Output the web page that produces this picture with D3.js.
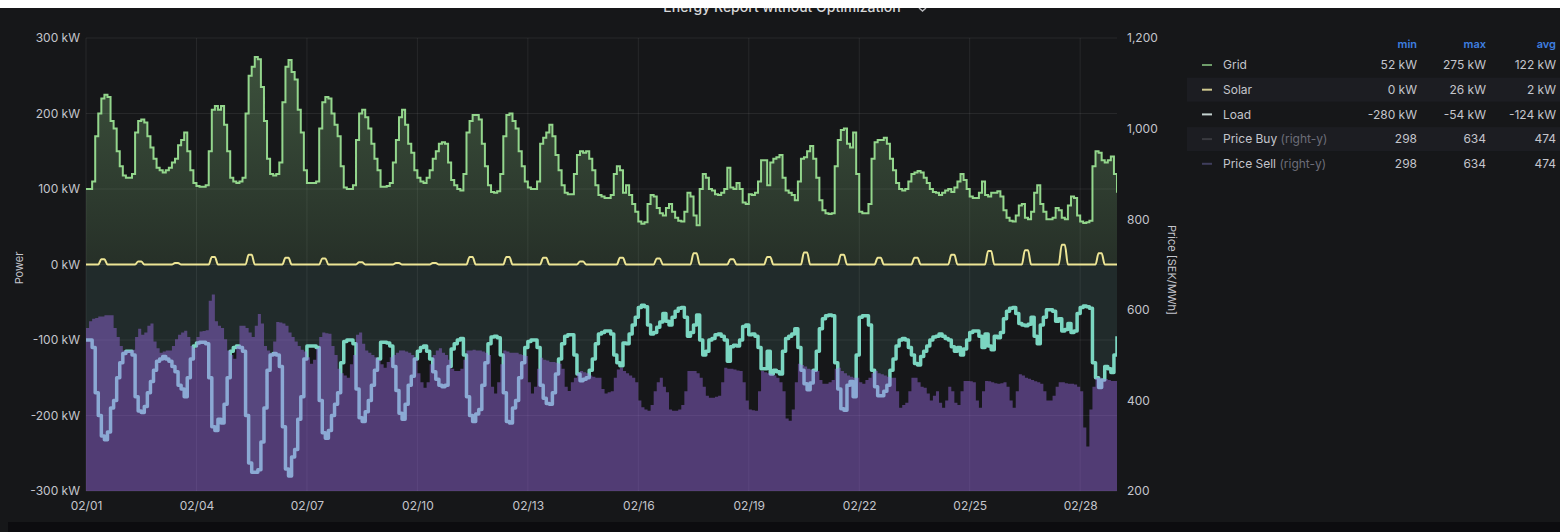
<!DOCTYPE html>
<html><head><meta charset="utf-8">
<script src="https://cdn.jsdelivr.net/npm/d3@7"></script>
<style>
html,body{margin:0;padding:0;background:#161719;overflow:hidden;}
svg{display:block;font-family:Inter,"Noto Sans",sans-serif;}
</style></head><body>
<svg id="c" width="1560" height="532"></svg>
<script>
// ---------- data (2-hour samples from 2024-02-01 00:00, last value closes 02/29 00:00) ----------
const startDate = new Date(2024, 1, 1);
const endDate = new Date(2024, 1, 29);
const stepHours = 2;

const gridKw = [
100,100,110,170,200,220,225,222,190,180,150,130,
118,115,115,120,175,190,192,188,170,155,140,128,
125,122,125,128,135,140,158,165,175,150,125,108,
104,103,103,105,150,205,210,205,210,185,150,115,
110,108,110,115,200,250,262,275,272,235,190,140,
120,118,120,135,215,262,271,255,245,205,175,125,
108,108,108,110,180,215,222,220,200,185,170,130,
102,100,100,105,165,200,205,195,180,160,140,125,
103,103,104,108,135,165,195,205,185,160,148,125,
115,110,108,115,125,140,150,160,162,160,135,112,
105,100,98,120,175,190,198,198,192,160,130,105,
96,95,97,120,170,198,200,190,180,150,130,110,
102,100,100,110,160,168,175,185,170,145,125,105,
95,93,93,120,145,150,148,150,140,125,105,92,
90,88,88,92,120,130,125,95,105,92,80,70,
57,54,56,80,92,90,75,68,65,75,80,70,
62,58,57,70,95,90,65,52,100,120,115,100,
98,93,92,95,100,128,102,100,108,100,82,80,
93,92,95,110,138,138,105,135,140,142,145,115,
98,95,92,85,110,140,142,150,157,140,115,85,
72,68,67,68,130,165,178,180,160,155,175,120,
70,68,68,80,140,162,165,165,168,160,140,125,
108,100,98,100,110,120,122,124,122,115,108,100,
96,95,92,95,98,100,96,102,110,120,112,100,
90,88,88,95,110,92,90,95,95,97,90,72,
62,58,57,65,78,80,62,60,70,95,105,80,
70,60,60,62,75,72,62,60,78,90,88,65,
57,55,56,58,130,150,148,138,135,138,143,120,
95];

const solarKw = [
0,0,0,0,0,7,7,0,0,0,0,0,
0,0,0,0,0,4,4,0,0,0,0,0,
0,0,0,0,0,2,2,0,0,0,0,0,
0,0,0,0,0,10,10,0,0,0,0,0,
0,0,0,0,0,13,13,0,0,0,0,0,
0,0,0,0,0,9,9,0,0,0,0,0,
0,0,0,0,0,8,8,0,0,0,0,0,
0,0,0,0,0,3,3,0,0,0,0,0,
0,0,0,0,0,2,2,0,0,0,0,0,
0,0,0,0,0,2,2,0,0,0,0,0,
0,0,0,0,0,10,10,0,0,0,0,0,
0,0,0,0,0,10,10,0,0,0,0,0,
0,0,0,0,0,9,9,0,0,0,0,0,
0,0,0,0,0,4,4,0,0,0,0,0,
0,0,0,0,0,0,9,9,0,0,0,0,
0,0,0,0,0,0,8,8,0,0,0,0,
0,0,0,0,0,0,15,15,0,0,0,0,
0,0,0,0,0,0,7,7,0,0,0,0,
0,0,0,0,0,0,10,10,0,0,0,0,
0,0,0,0,0,0,16,16,0,0,0,0,
0,0,0,0,0,0,13,13,0,0,0,0,
0,0,0,0,0,0,9,9,0,0,0,0,
0,0,0,0,0,0,9,9,0,0,0,0,
0,0,0,0,0,0,13,13,0,0,0,0,
0,0,0,0,0,0,18,18,0,0,0,0,
0,0,0,0,0,0,19,19,0,0,0,0,
0,0,0,0,0,0,26,26,0,0,0,0,
0,0,0,0,0,0,15,15,0,0,0,0,
0];

const loadKw = [
-100,-100,-110,-170,-200,-227,-232,-222,-190,-180,-150,-130,
-118,-115,-115,-120,-175,-194,-196,-188,-170,-155,-140,-128,
-125,-122,-125,-128,-135,-142,-160,-165,-175,-150,-125,-108,
-104,-103,-103,-105,-150,-215,-220,-205,-210,-185,-150,-115,
-110,-108,-110,-115,-200,-263,-275,-275,-272,-235,-190,-140,
-120,-118,-120,-135,-215,-271,-280,-255,-245,-205,-175,-125,
-108,-108,-108,-110,-180,-223,-230,-220,-200,-185,-170,-130,
-102,-100,-100,-105,-165,-203,-208,-195,-180,-160,-140,-125,
-103,-103,-104,-108,-135,-167,-197,-205,-185,-160,-148,-125,
-115,-110,-108,-115,-125,-142,-152,-160,-162,-160,-135,-112,
-105,-100,-98,-120,-175,-200,-208,-198,-192,-160,-130,-105,
-96,-95,-97,-120,-170,-208,-210,-190,-180,-150,-130,-110,
-102,-100,-100,-110,-160,-177,-184,-185,-170,-145,-125,-105,
-95,-93,-93,-120,-145,-154,-152,-150,-140,-125,-105,-92,
-90,-88,-88,-92,-120,-130,-134,-104,-105,-92,-80,-70,
-57,-54,-56,-80,-92,-90,-83,-76,-65,-75,-80,-70,
-62,-58,-57,-70,-95,-90,-80,-67,-100,-120,-115,-100,
-98,-93,-92,-95,-100,-128,-109,-107,-108,-100,-82,-80,
-93,-92,-95,-110,-138,-138,-115,-145,-140,-142,-145,-115,
-98,-95,-92,-85,-110,-140,-158,-166,-157,-140,-115,-85,
-72,-68,-67,-68,-130,-165,-191,-193,-160,-155,-175,-120,
-70,-68,-68,-80,-140,-162,-174,-174,-168,-160,-140,-125,
-108,-100,-98,-100,-110,-120,-131,-133,-122,-115,-108,-100,
-96,-95,-92,-95,-98,-100,-109,-115,-110,-120,-112,-100,
-90,-88,-88,-95,-110,-92,-108,-113,-95,-97,-90,-72,
-62,-58,-57,-65,-78,-80,-81,-79,-70,-95,-105,-80,
-70,-60,-60,-62,-75,-72,-88,-86,-78,-90,-88,-65,
-57,-55,-56,-58,-130,-150,-163,-153,-135,-138,-143,-120,
-95];

// Price Buy and Price Sell are identical in the source (same min/max/avg)
const priceSek = [
560,575,580,582,585,585,588,588,588,560,540,520,
510,510,510,512,540,558,545,550,565,570,530,515,
505,508,510,510,520,535,545,550,554,540,520,515,
540,552,553,555,620,634,575,565,560,535,510,500,
492,520,565,565,560,550,540,565,591,570,520,510,
505,530,573,572,570,565,550,540,530,520,512,508,
495,481,490,515,540,550,548,547,520,500,470,460,
455,450,480,500,545,550,525,510,505,500,495,490,
480,472,485,495,500,505,510,510,508,505,500,494,
460,440,428,440,480,500,510,515,505,500,490,470,
465,465,470,490,510,510,512,510,510,508,505,500,
430,415,440,480,510,508,505,505,505,502,500,498,
440,415,430,470,494,490,488,485,485,483,481,470,
430,421,440,450,460,465,462,460,455,452,450,450,
425,415,418,420,450,468,472,465,460,455,450,440,
400,385,380,377,390,420,440,450,430,418,380,377,
377,380,390,420,465,465,465,460,450,430,410,406,
406,408,410,440,472,470,470,468,466,465,440,400,
380,378,377,420,465,462,460,458,455,450,440,420,
360,355,380,440,481,478,475,470,468,466,465,445,
437,437,440,445,470,472,465,460,455,452,450,450,
440,437,445,450,460,465,460,458,455,452,450,450,
420,384,390,395,420,450,450,440,430,428,415,400,
410,420,395,384,400,430,420,395,390,420,443,443,
442,440,400,384,420,443,442,440,438,437,438,440,
430,400,384,420,458,455,450,448,445,442,440,437,
420,400,400,410,430,440,440,438,437,437,435,430,
420,340,298,380,430,450,450,448,447,445,443,443,
443];

const powerTicks = [300, 200, 100, 0, -100, -200, -300];
const priceTicks = [1200, 1000, 800, 600, 400, 200];
const dateTickEveryDays = 3;

const titleText = "Energy Report without Optimization";
const legendNames = ["Grid", "Solar", "Load", "Price Buy", "Price Sell"];
const legendSuffix = ["", "", "", "(right-y)", "(right-y)"];
const legendMin = ["52 kW", "0 kW", "-280 kW", "298", "298"];
const legendMax = ["275 kW", "26 kW", "-54 kW", "634", "634"];
const legendAvg = ["122 kW", "2 kW", "-124 kW", "474", "474"];
const legendHeaders = ["min", "max", "avg"];

// ---------- drawing ----------
const W = 1560, H = 532;
const P = {l: 86, r: 1117, t: 38, b: 491};
const C = {
  bg: "#161719", text: "#c4c5cc", dim: "#6c6d78", grid: "rgba(255,255,255,0.075)",
  gridLine: "#93d68c", solar: "#ede595", load: "#7bd6c1", price: "#a06cec",
  head: "#3f7fe0"
};
const legendSwatch = ["#6f9d6a", "#cfc88f", "#c5d3d0", "#3a3a40", "#3f3e5c"];

const svg = d3.select("#c");
svg.append("rect").attr("width", W).attr("height", H).attr("fill", C.bg);

const times = gridKw.map((_, i) => d3.timeHour.offset(startDate, i * stepHours));
const x = d3.scaleTime().domain([startDate, endDate]).range([P.l, P.r]);
const yL = d3.scaleLinear().domain([-300, 300]).range([P.b, P.t]);
const yR = d3.scaleLinear().domain([200, 1200]).range([P.b, P.t]);

const defs = svg.append("defs");
defs.append("clipPath").attr("id", "plot").append("rect")
  .attr("x", P.l).attr("y", P.t - 4).attr("width", P.r - P.l).attr("height", P.b - P.t + 4);
const g1 = defs.append("linearGradient").attr("id", "gridFill")
  .attr("gradientUnits", "userSpaceOnUse").attr("x1", 0).attr("x2", 0)
  .attr("y1", yL(300)).attr("y2", yL(0));
g1.append("stop").attr("offset", 0).attr("stop-color", C.gridLine).attr("stop-opacity", 0.32);
g1.append("stop").attr("offset", 1).attr("stop-color", C.gridLine).attr("stop-opacity", 0.13);

// gridlines
const xTicks = d3.timeDay.range(startDate, endDate, 1)
  .filter(d => (d.getDate() - 1) % dateTickEveryDays === 0);
const gl = svg.append("g");
gl.selectAll("line.h").data(powerTicks).join("line")
  .attr("x1", P.l).attr("x2", P.r).attr("y1", d => yL(d)).attr("y2", d => yL(d))
  .attr("stroke", C.grid).attr("stroke-width", 1);
gl.selectAll("line.v").data(xTicks).join("line")
  .attr("x1", d => x(d)).attr("x2", d => x(d)).attr("y1", P.t).attr("y2", P.b)
  .attr("stroke", C.grid).attr("stroke-width", 1);

const plot = svg.append("g").attr("clip-path", "url(#plot)");
const xi = (d, i) => x(times[i]);

// fills
plot.append("path").datum(gridKw)
  .attr("d", d3.area().x(xi).y0(yL(0)).y1(d => yL(d)).curve(d3.curveStepAfter))
  .attr("fill", "url(#gridFill)");
plot.append("path").datum(loadKw)
  .attr("d", d3.area().x(xi).y0(yL(0)).y1(d => yL(d)).curve(d3.curveStepAfter))
  .attr("fill", C.load).attr("fill-opacity", 0.11);

// lines
plot.append("path").datum(gridKw)
  .attr("d", d3.line().x(xi).y(d => yL(d)).curve(d3.curveStepAfter))
  .attr("fill", "none").attr("stroke", C.gridLine).attr("stroke-width", 2);
plot.append("path").datum(solarKw)
  .attr("d", d3.line().x(xi).y(d => yL(d)).curve(d3.curveMonotoneX))
  .attr("fill", "none").attr("stroke", C.solar).attr("stroke-width", 2);
plot.append("path").datum(loadKw)
  .attr("d", d3.line().x(xi).y(d => yL(d)).curve(d3.curveStepAfter))
  .attr("fill", "none").attr("stroke", C.load).attr("stroke-width", 3.5)
  .attr("stroke-linejoin", "round");

// price (right axis) area drawn over the load line
plot.append("path").datum(priceSek)
  .attr("d", d3.area().x(xi).y0(yR(200)).y1(d => yR(d)).curve(d3.curveStepAfter))
  .attr("fill", C.price).attr("fill-opacity", 0.43);

// axes
const axL = svg.append("g").attr("transform", `translate(${P.l},0)`)
  .call(d3.axisLeft(yL).tickValues(powerTicks).tickFormat(d => d + " kW").tickSize(0).tickPadding(6));
const axR = svg.append("g").attr("transform", `translate(${P.r},0)`)
  .call(d3.axisRight(yR).tickValues(priceTicks).tickFormat(d3.format(",")).tickSize(0).tickPadding(10));
const axB = svg.append("g").attr("transform", `translate(0,${P.b})`)
  .call(d3.axisBottom(x).tickValues(xTicks).tickFormat(d3.timeFormat("%m/%d")).tickSize(0).tickPadding(10));
[axL, axR, axB].forEach(a => {
  a.select(".domain").remove();
  a.selectAll("text").attr("fill", C.text).attr("font-size", 12).attr("font-family", "Inter, sans-serif");
});

svg.append("text").attr("transform", `translate(23,268) rotate(-90)`)
  .attr("text-anchor", "middle").attr("fill", C.text).attr("font-size", 11).text("Power");
svg.append("text").attr("transform", `translate(1168,270) rotate(90)`)
  .attr("text-anchor", "middle").attr("fill", C.text).attr("font-size", 11).text("Price [SEK/MWh]");

// legend table
const lg = svg.append("g");
const rowY0 = 65, rowStep = 24.7;
const colX = [1417, 1486, 1556];
legendNames.forEach((n, i) => {
  const cy = rowY0 + i * rowStep;
  if (i % 2 === 1) {
    lg.append("rect").attr("x", 1187).attr("y", cy - 12).attr("width", W - 1187).attr("height", 24)
      .attr("fill", "#1c1d22");
  }
  lg.append("line").attr("x1", 1202).attr("x2", 1212).attr("y1", cy).attr("y2", cy)
    .attr("stroke", legendSwatch[i]).attr("stroke-width", 2);
  const t = lg.append("text").attr("x", 1223).attr("y", cy).attr("dy", "0.35em")
    .attr("font-size", 12).attr("fill", C.text).text(n);
  if (legendSuffix[i]) t.append("tspan").attr("fill", C.dim).text(" " + legendSuffix[i]);
  [legendMin[i], legendMax[i], legendAvg[i]].forEach((v, j) => {
    lg.append("text").attr("x", colX[j]).attr("y", cy).attr("dy", "0.35em")
      .attr("text-anchor", "end").attr("font-size", 12).attr("fill", C.text).text(v);
  });
});
legendHeaders.forEach((h, j) => {
  lg.append("text").attr("x", colX[j]).attr("y", 44).attr("dy", "0.35em")
    .attr("text-anchor", "end").attr("font-size", 11).attr("font-weight", 600)
    .attr("fill", C.head).text(h);
});

// title (partly hidden under top strip)
svg.append("text").attr("x", 782).attr("y", 11.5).attr("text-anchor", "middle")
  .attr("font-size", 14).attr("font-weight", 500).attr("fill", "#d8d9da").text(titleText);
svg.append("path").attr("d", "M919,8 L922.5,11 L926,8").attr("fill", "none")
  .attr("stroke", "#b8b9bd").attr("stroke-width", 1.5);

// top white strip and bottom dark strip of the capture
svg.append("rect").attr("x", 0).attr("y", 0).attr("width", W).attr("height", 8).attr("fill", "#ffffff");
svg.append("rect").attr("x", 8).attr("y", 522).attr("width", W - 8).attr("height", 10).attr("fill", "#0c0c0f");
</script>
</body></html>
